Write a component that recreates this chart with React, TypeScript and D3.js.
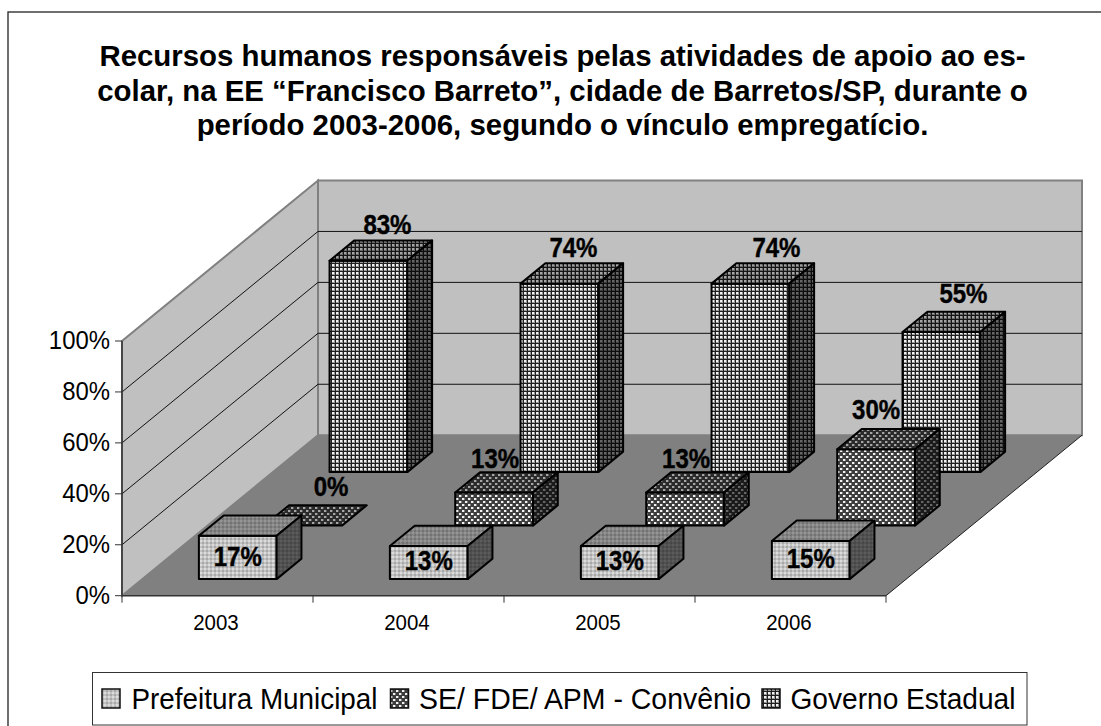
import React from "react";
import * as d3 from "d3";

const years = ["2003", "2004", "2005", "2006"];
const seriesNames = ["Prefeitura Municipal", "SE/ FDE/ APM - Convênio", "Governo Estadual"];
const prefeitura = [17, 13, 13, 15];
const convenio = [0, 13, 13, 30];
const governo = [83, 74, 74, 55];
const allSeries = [prefeitura, convenio, governo];
const titleLines = [
  "Recursos humanos responsáveis pelas atividades de apoio ao es-",
  "colar, na EE “Francisco Barreto”, cidade de Barretos/SP, durante o",
  "período 2003-2006, segundo o vínculo empregatício.",
];

// data labels were moved by hand in the original, so each one has its own nudge
const labelNudgeX = [
  [0, 0, 0, 0],
  [28, 1, 1, 0],
  [19, 14, 26, 22],
];
const labelNudgeY = [
  [30, 24, 24, 27],
  [-30, -25, -25, -30],
  [-27, -27, -27, -29],
];

const originX = 122;
const originY = 595.7;
const plotW = 764;
const plotH = 254.7;
const depthX = 196;
const depthY = 160.5;

const x = d3.scaleBand<string>().domain(years).range([0, plotW]);
const y = d3.scaleLinear().domain([0, 1]).range([0, plotH]);
const z = d3.scaleBand<number>().domain([0, 1, 2]).range([0, 1]).paddingInner(0.62).paddingOuter(0.31);
const barW = x.bandwidth() * 0.407;
const pct = d3.format(".0%");

// oblique projection used by the whole chart: across, depth 0-1, height 0-1
const project = (px: number, d: number, v: number): [number, number] => [
  originX + px + d * depthX,
  originY - d * depthY - y(v),
];
const outline = d3.line().curve(d3.curveLinearClosed);

const shades = [
  { key: "front", light: 1 },
  { key: "top", light: 0.68 },
  { key: "side", light: 0.42 },
];

function grey(v: number) {
  const c = Math.round(Math.min(v, 1) * 255);
  return `rgb(${c},${c},${c})`;
}

function BarPatterns() {
  return (
    <defs>
      {shades.map((s) => (
        <React.Fragment key={s.key}>
          <pattern id={`p0-${s.key}`} width={4} height={4} patternUnits="userSpaceOnUse">
            <rect width={4} height={4} fill={grey(s.light * 0.76)} />
            <rect x={0} y={0} width={2} height={2} fill={grey(s.light * 0.86)} />
            <rect x={2} y={2} width={2} height={2} fill={grey(s.light * 0.66)} />
          </pattern>
          <pattern id={`p1-${s.key}`} width={6} height={6} patternUnits="userSpaceOnUse">
            <rect width={6} height={6} fill={grey(s.light * 0.24)} />
            <rect x={0} y={0} width={2} height={2} fill={grey(s.light * 0.95)} />
            <rect x={3} y={3} width={2} height={2} fill={grey(s.light * 0.95)} />
            <rect x={2} y={0} width={1} height={2} fill={grey(s.light * 0.5)} />
            <rect x={5} y={3} width={1} height={2} fill={grey(s.light * 0.5)} />
          </pattern>
          <pattern id={`p2-${s.key}`} width={4} height={4} patternUnits="userSpaceOnUse">
            <rect width={4} height={4} fill={grey(s.light * 0.95)} />
            <rect x={2} y={0} width={1} height={4} fill={grey(s.light * 0.6)} />
            <rect x={0} y={2} width={4} height={1} fill={grey(s.light * 0.6)} />
            <rect x={3} y={0} width={1} height={4} fill={grey(s.light * 0.12)} />
            <rect x={0} y={3} width={4} height={1} fill={grey(s.light * 0.12)} />
          </pattern>
        </React.Fragment>
      ))}
    </defs>
  );
}

function Bar({ year, s, value }: { year: string; s: number; value: number }) {
  const x0 = x(year)! + (x.bandwidth() - barW) / 2;
  const x1 = x0 + barW;
  const d0 = z(s)!;
  const d1 = d0 + z.bandwidth();
  const v = value / 100;
  const edge = { stroke: "#000", strokeWidth: 2, strokeLinejoin: "round" as const };
  const top = outline([project(x0, d0, v), project(x1, d0, v), project(x1, d1, v), project(x0, d1, v)])!;
  if (value === 0) return <path d={top} fill={`url(#p${s}-top)`} {...edge} />;
  return (
    <g>
      <path
        d={outline([project(x0, d0, 0), project(x1, d0, 0), project(x1, d0, v), project(x0, d0, v)])!}
        fill={`url(#p${s}-front)`}
        {...edge}
      />
      <path d={top} fill={`url(#p${s}-top)`} {...edge} />
      <path
        d={outline([project(x1, d0, 0), project(x1, d1, 0), project(x1, d1, v), project(x1, d0, v)])!}
        fill={`url(#p${s}-side)`}
        {...edge}
      />
    </g>
  );
}

// the reference text is squeezed a little sideways
function Squeezed({ px, py, sx, ...rest }: any) {
  return <text transform={`translate(${px},${py}) scale(${sx},1)`} fill="#000" {...rest} />;
}

const legendX = [102, 390.5, 762];
const legendTextX = [131.5, 419, 790.5];
const legendTextW = [246, 332, 225];

export default function App() {
  const gridTicks = y.ticks(5).filter((t) => t > 0 && t < 1);
  const wallLeft = outline([project(0, 0, 0), project(0, 1, 0), project(0, 1, 1), project(0, 0, 1)])!;
  const wallBack = outline([project(0, 1, 0), project(plotW, 1, 0), project(plotW, 1, 1), project(0, 1, 1)])!;
  const floor = outline([project(0, 0, 0), project(plotW, 0, 0), project(plotW, 1, 0), project(0, 1, 0)])!;
  const tickEdges = [0, ...years.map((yr) => x(yr)! + x.bandwidth())];

  return (
    <svg
      width={1101}
      height={726}
      style={{ position: "absolute", left: 0, top: 0, background: "#fff" }}
      fontFamily="'Liberation Sans', Arial, sans-serif"
    >
      <BarPatterns />
      <rect x={8} y={12} width={1200} height={800} fill="#fff" stroke="#222" strokeWidth={1.3} />

      {titleLines.map((line, i) => (
        <text key={i} x={562.5} y={66 + i * 34.5} textAnchor="middle" fontSize={29.4} fontWeight="bold" fill="#000">
          {line}
        </text>
      ))}

      <path d={wallLeft} fill="#c0c0c0" stroke="#808080" strokeWidth={2} />
      <path d={wallBack} fill="#c0c0c0" stroke="#808080" strokeWidth={2} />
      <path d={floor} fill="#808080" />
      <line
        x1={project(plotW, 0, 0)[0]}
        y1={project(plotW, 0, 0)[1]}
        x2={project(plotW, 1, 0)[0]}
        y2={project(plotW, 1, 0)[1]}
        stroke="#222"
        strokeWidth={1}
      />

      {gridTicks.map((t) => {
        const a = project(0, 0, t);
        const b = project(0, 1, t);
        const c = project(plotW, 1, t);
        return <polyline key={t} points={[a, b, c].join(" ")} fill="none" stroke="#111" strokeWidth={1} />;
      })}

      {/* back series first so the nearer boxes cover them */}
      {[2, 1, 0].map((s) => years.map((yr, i) => <Bar key={`${s}-${yr}`} year={yr} s={s} value={allSeries[s][i]} />))}

      {allSeries.map((values, s) =>
        values.map((v, i) => {
          const cx = x(years[i])! + x.bandwidth() / 2;
          const [px, py] = project(cx, z(s)!, v / 100);
          return (
            <Squeezed
              key={`${s}-${i}`}
              px={px + labelNudgeX[s][i]}
              py={py + labelNudgeY[s][i]}
              sx={0.89}
              textAnchor="middle"
              fontSize={27}
              fontWeight="bold"
              stroke="#000"
              strokeWidth={0.4}
            >
              {v}%
            </Squeezed>
          );
        })
      )}

      {/* axes */}
      <line x1={originX} y1={originY - plotH} x2={originX} y2={originY} stroke="#333" strokeWidth={1.5} />
      <line x1={originX} y1={originY} x2={originX + plotW} y2={originY} stroke="#333" strokeWidth={1.5} />
      {y.ticks(5).map((t) => (
        <g key={t} transform={`translate(${originX},${originY - y(t)})`}>
          <line x1={-7} x2={0} stroke="#333" strokeWidth={1} />
          <Squeezed px={-12} py={8} sx={0.92} textAnchor="end" fontSize={26}>
            {pct(t)}
          </Squeezed>
        </g>
      ))}
      {tickEdges.map((px) => (
        <line key={px} x1={originX + px} x2={originX + px} y1={originY} y2={originY + 7} stroke="#333" strokeWidth={1} />
      ))}
      {years.map((yr) => (
        <Squeezed key={yr} px={originX + x(yr)! + x.bandwidth() / 2 - 1.5} py={630} sx={0.93} textAnchor="middle" fontSize={22}>
          {yr}
        </Squeezed>
      ))}

      {/* legend */}
      <rect x={92.5} y={672.5} width={934.5} height={52.5} fill="#fff" stroke="#333" strokeWidth={1} />
      {seriesNames.map((name, s) => (
        <g key={name}>
          <rect x={legendX[s]} y={689} width={18} height={19} fill={`url(#p${s}-front)`} stroke="#111" strokeWidth={1.5} />
          <text x={legendTextX[s]} y={709} fontSize={30} fill="#000" textLength={legendTextW[s]} lengthAdjust="spacingAndGlyphs">
            {name}
          </text>
        </g>
      ))}
    </svg>
  );
}
